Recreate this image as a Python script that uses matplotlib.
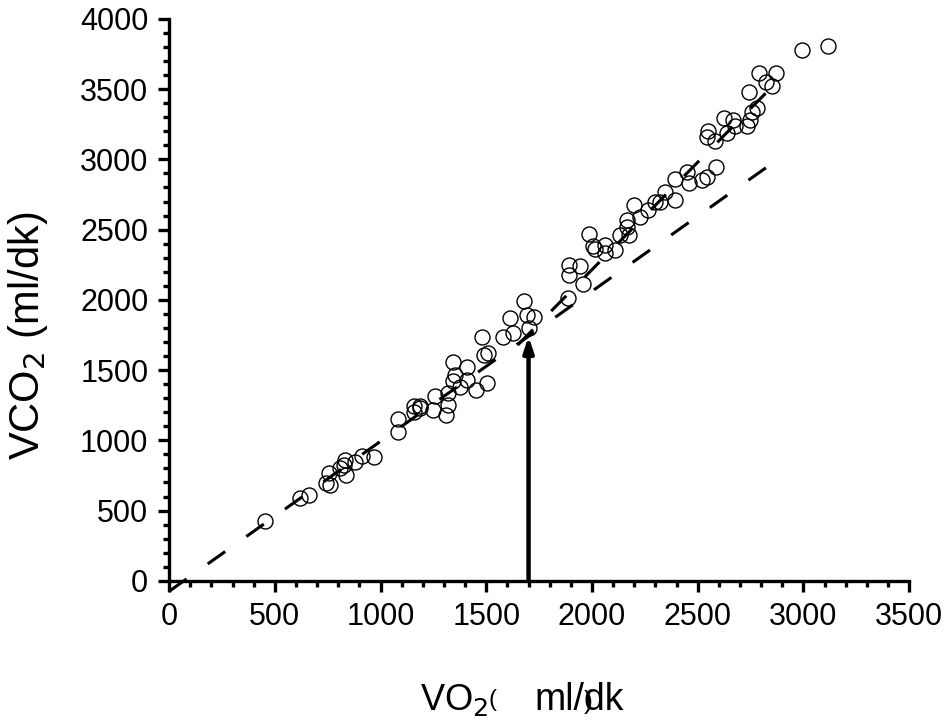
import matplotlib
matplotlib.use("Agg")
import matplotlib.pyplot as plt
from matplotlib.ticker import MultipleLocator

plt.rcParams['font.family'] = ['Liberation Sans', 'DejaVu Sans']

vo2 = [454, 620, 664, 741, 754, 762, 809, 825, 833, 836, 880, 911, 971,
       1082, 1082, 1156, 1156, 1187, 1187, 1250, 1258, 1309, 1321, 1321,
       1345, 1345, 1353, 1376, 1408, 1411, 1452, 1479, 1487, 1503, 1510,
       1578, 1613, 1626, 1679, 1692, 1700, 1724, 1885, 1889, 1889, 1942,
       1956, 1984, 2007, 2015, 2062, 2062, 2110, 2133, 2165, 2165, 2173,
       2200, 2228, 2267, 2299, 2323, 2346, 2394, 2394, 2449, 2457, 2519,
       2546, 2586, 2543, 2551, 2583, 2625, 2638, 2669, 2677, 2733, 2745,
       2756, 2780, 2744, 2791, 2822, 2851, 2871, 2993, 3114]
vco2 = [425, 590, 612, 695, 767, 683, 802, 826, 861, 754, 849, 885, 880,
        1153, 1058, 1205, 1241, 1229, 1241, 1217, 1312, 1181, 1253, 1336,
        1419, 1561, 1466, 1383, 1431, 1521, 1359, 1735, 1609, 1407, 1621,
        1732, 1870, 1763, 1995, 1893, 1798, 1881, 2012, 2249, 2178, 2242,
        2114, 2470, 2380, 2361, 2391, 2332, 2356, 2463, 2522, 2569, 2463,
        2676, 2593, 2641, 2700, 2700, 2771, 2712, 2859, 2913, 2831, 2854,
        2873, 2944, 3158, 3205, 3134, 3292, 3187, 3281, 3234, 3234, 3281,
        3340, 3364, 3483, 3618, 3554, 3519, 3612, 3775, 3808]

# regression lines (endpoints)
line1_x = [0, 2860]
line1_y = [-75, 2980]
line2_x = [1650, 2870]
line2_y = [1680, 3545]

# threshold arrow
at_x = 1700
at_y = 1740

fig = plt.figure(figsize=(9.5, 7.26), dpi=100)
ax = fig.add_axes([0.178, 0.2, 0.779, 0.774])

lw = 2.2
ax.plot(line1_x, line1_y, color='black', lw=lw, dashes=(7, 8.5),
        dash_capstyle='butt', clip_on=False, zorder=3)
ax.plot(line2_x, line2_y, color='black', lw=lw, dashes=(7, 8.5),
        dash_capstyle='butt', clip_on=False, zorder=3)
ax.plot(vo2, vco2, linestyle='none', marker='o', ms=10.8, mfc='none',
        mec='black', mew=1.0, zorder=2, clip_on=False)

ax.annotate('', xy=(at_x, at_y), xytext=(at_x, 0),
            arrowprops=dict(arrowstyle='-|>,head_length=0.9,head_width=0.3',
                            color='black', lw=3.2, shrinkA=0, shrinkB=0),
            zorder=4)

ax.set_xlim(0, 3500)
ax.set_ylim(0, 4000)
ax.xaxis.set_major_locator(MultipleLocator(500))
ax.xaxis.set_minor_locator(MultipleLocator(100))
ax.yaxis.set_major_locator(MultipleLocator(500))
ax.yaxis.set_minor_locator(MultipleLocator(100))

for s in ['top', 'right']:
    ax.spines[s].set_visible(False)
for s in ['left', 'bottom']:
    ax.spines[s].set_linewidth(2.4)

ax.tick_params(which='major', direction='out', length=8, width=2.4,
               labelsize=22, pad=7)
ax.tick_params(which='minor', direction='out', length=4, width=2.4)

fig.text(0.03, 0.537, 'VCO$_{2}$ (ml/dk)', rotation=90, fontsize=30,
         ha='center', va='center')

# garbled x-axis label, reproduced piecewise
fig.text(420 / 950, 1 - 710 / 726, 'VO$_{2}$', fontsize=26, ha='left',
         va='baseline')
fig.text(489 / 950, 1 - 706 / 726, '(', fontsize=17, ha='left',
         va='baseline')
fig.text(534 / 950, 1 - 710 / 726, 'ml/dk', fontsize=27, ha='left',
         va='baseline')
fig.text(584 / 950, 1 - 709 / 726, ')', fontsize=19, ha='left',
         va='baseline')

fig.savefig('out.png', dpi=100)
